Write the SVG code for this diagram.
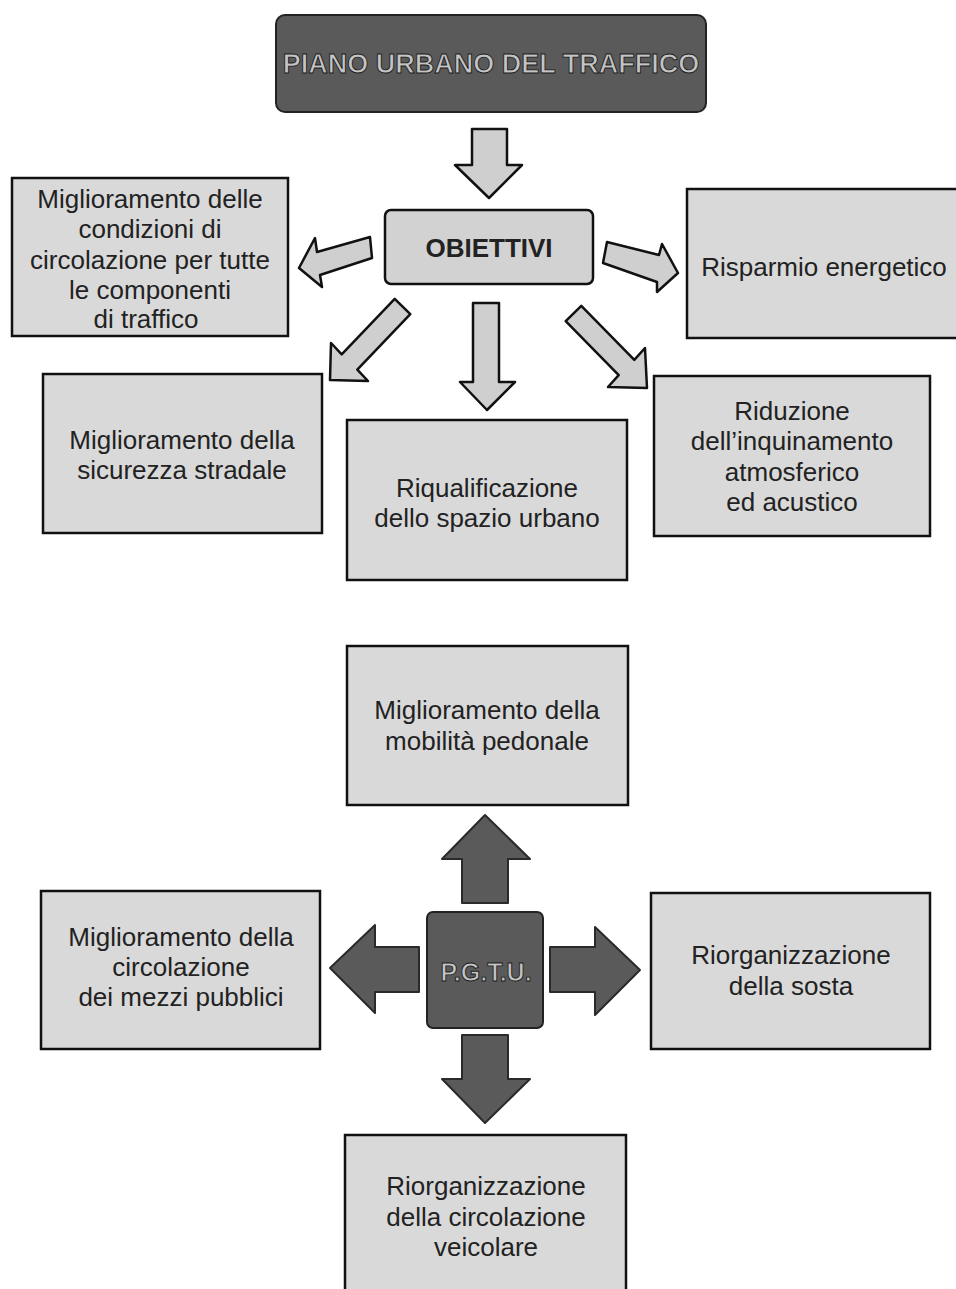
<svg xmlns="http://www.w3.org/2000/svg" width="956" height="1289" viewBox="0 0 956 1289">
<style>
.box{fill:#d9d9d9;stroke:#111;stroke-width:2.5}
.dark{fill:#5a5a5a;stroke:#222;stroke-width:2}
.la{fill:#cfcfcf;stroke:#111;stroke-width:2.5;stroke-linejoin:round}
.da{fill:#5a5a5a;stroke:#2a2a2a;stroke-width:2;stroke-linejoin:round}
.t{font-family:"Liberation Sans",Arial,sans-serif;font-size:26px;fill:#222;text-anchor:middle}
.tb{font-family:"Liberation Sans",Arial,sans-serif;font-weight:bold;text-anchor:middle;fill:#c4c4c4;stroke:#1a1a1a;stroke-width:0.9}
</style>
<rect width="956" height="1289" fill="#fff"/>
<g id="title">
<rect x="276" y="15" width="430" height="97" rx="9" class="dark"/>
<text x="491" y="73" class="tb" font-weight="bold" font-size="27">PIANO URBANO DEL TRAFFICO</text>
</g>
<g id="obiettivi">
<rect x="385" y="210" width="208" height="74" rx="6" fill="#d2d2d2" stroke="#111" stroke-width="2.5"/>
<text x="489" y="257" class="t" font-weight="bold" font-size="25">OBIETTIVI</text>
</g>
<g id="condizioni">
<rect x="12" y="178" width="276" height="158" class="box"/>
<text class="t"><tspan x="150" y="208">Miglioramento delle</tspan><tspan x="150" y="238">condizioni di</tspan><tspan x="150" y="269">circolazione per tutte</tspan><tspan x="150" y="299">le componenti</tspan><tspan x="146" y="328">di traffico</tspan></text>
</g>
<g id="risparmio">
<rect x="687" y="189" width="275" height="149" class="box"/>
<text x="824" y="276" class="t">Risparmio energetico</text>
</g>
<g id="sicurezza">
<rect x="43" y="374" width="279" height="159" class="box"/>
<text class="t"><tspan x="182" y="449">Miglioramento della</tspan><tspan x="182" y="479">sicurezza stradale</tspan></text>
</g>
<g id="riqualificazione">
<rect x="347" y="420" width="280" height="160" class="box"/>
<text class="t"><tspan x="487" y="497">Riqualificazione</tspan><tspan x="487" y="527">dello spazio urbano</tspan></text>
</g>
<g id="riduzione">
<rect x="654" y="376" width="276" height="160" class="box"/>
<text class="t"><tspan x="792" y="420">Riduzione</tspan><tspan x="792" y="450">dell’inquinamento</tspan><tspan x="792" y="481">atmosferico</tspan><tspan x="792" y="511">ed acustico</tspan></text>
</g>
<g id="pedonale">
<rect x="347" y="646" width="281" height="159" class="box"/>
<text class="t"><tspan x="487" y="719">Miglioramento della</tspan><tspan x="487" y="750">mobilità pedonale</tspan></text>
</g>
<g id="pgtu">
<rect x="427" y="912" width="116" height="116" rx="6" class="dark"/>
<text x="486" y="981" class="tb" font-weight="bold" font-size="25">P.G.T.U.</text>
</g>
<g id="mezzi">
<rect x="41" y="891" width="279" height="158" class="box"/>
<text class="t"><tspan x="181" y="946">Miglioramento della</tspan><tspan x="181" y="976">circolazione</tspan><tspan x="181" y="1006">dei mezzi pubblici</tspan></text>
</g>
<g id="sosta">
<rect x="651" y="893" width="279" height="156" class="box"/>
<text class="t"><tspan x="791" y="964">Riorganizzazione</tspan><tspan x="791" y="995">della sosta</tspan></text>
</g>
<g id="veicolare">
<rect x="345" y="1135" width="281" height="170" class="box"/>
<text class="t"><tspan x="486" y="1195">Riorganizzazione</tspan><tspan x="486" y="1226">della circolazione</tspan><tspan x="486" y="1256">veicolare</tspan></text>
</g>
<g id="connectors">
<polygon class="la" points="472,129 507,129 507,165 522,165 489,198 455,165 472,165"/>
<polygon class="la" points="370,237 372,258 320,275 322,287 299,268 315,238 317,252"/>
<polygon class="la" points="607,242 659,255 662,244 678,273 657,292 657,282 603,263"/>
<polygon class="la" points="394.7,298.8 410.3,314.2 357.3,369.7 368,381 330,380 331,343 341.7,354.3"/>
<polygon class="la" points="473,303 499,303 499,382 515,382 487,410 460,382 473,382"/>
<polygon class="la" points="565.7,321.2 581.3,305.8 634.3,359.8 645,348 647,388 608,387 618.7,375.2"/>
<polygon class="da" points="462,903 462,859 442,859 485,815 530,859 508,859 508,903"/>
<polygon class="da" points="419,947 375,947 375,925 330,968 375,1013 375,992 419,992"/>
<polygon class="da" points="550,947 595,947 595,927 640,970 595,1015 595,992 550,992"/>
<polygon class="da" points="462,1035 508,1035 508,1079 530,1079 485,1123 442,1079 462,1079"/>
</g>
</svg>
